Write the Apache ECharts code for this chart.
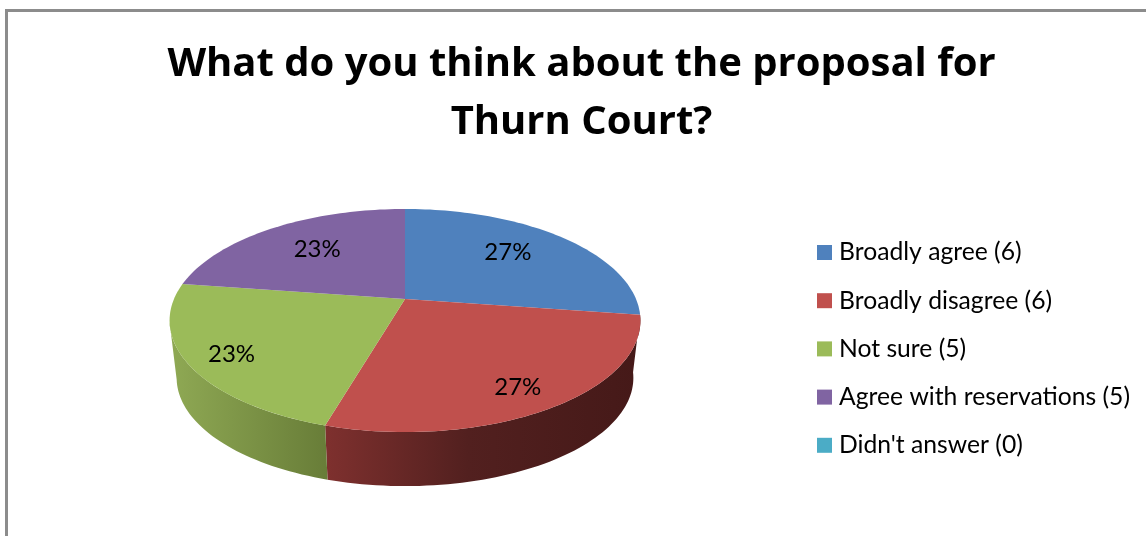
<!DOCTYPE html>
<html>
<head>
<meta charset="utf-8">
<style>html,body{margin:0;padding:0;background:#fff}#c{width:1146px;height:536px}</style>
<script src="https://cdn.jsdelivr.net/npm/echarts@6/dist/echarts.min.js"></script>
</head>
<body>
<div id="c"></div>
<script>
var categories = ["Broadly agree (6)", "Broadly disagree (6)", "Not sure (5)", "Agree with reservations (5)", "Didn't answer (0)"];
var counts = [6, 6, 5, 5, 0];
var colors = ["#4f81bd", "#c0504d", "#9bbb59", "#8064a2", "#4bacc6"];
var titleLines = ["What do you think about the proposal for", "Thurn Court?"];

var total = counts.reduce(function (a, b) { return a + b; }, 0);
var starts = [];
counts.reduce(function (acc, v, i) { starts[i] = acc; return acc + v; }, 0);

// perspective disc projection
var CX = 405, CY = 299, RX = 231, RY = 107.4, K = 0.193;
var BOTTOM_SCALE = 0.97, DEPTH = 58;
var FRONT_FROM = 98, FRONT_TO = 258;
function project(deg, r) {
  var t = deg * Math.PI / 180, u = Math.cos(t) * r, s = Math.sin(t) * r, d = 1 + K * u;
  return [CX + RX * s / d, CY - RY * u / d];
}
function lower(p) {
  return [CX + (p[0] - CX) * BOTTOM_SCALE, CY + (p[1] - CY) * BOTTOM_SCALE + DEPTH];
}
function arc(a, b) {
  var pts = [], n = Math.max(2, Math.ceil(Math.abs(b - a) / 1.5));
  for (var i = 0; i <= n; i++) pts.push(project(a + (b - a) * i / n, 1));
  return pts;
}
var sideFill = {
  1: [327, 640, [[0, "#7e302e"], [0.45, "#52201f"], [1, "#451918"]]],
  2: [170, 327, [[0, "#8fa954"], [1, "#687d38"]]]
};
var labelShift = [[-2, -4], [22, 23], [-38, 15], [2, -2], [0, 0]];

function renderSlice(idx) {
  return function (params, api) {
    var v = api.value(0), s = api.value(1);
    if (!v) return { type: "group", children: [] };
    var a = s / total * 360, b = (s + v) / total * 360, children = [];
    var top = [[CX, CY]].concat(arc(a, b));
    children.push({ type: "polygon", z2: 2, shape: { points: top }, style: { fill: colors[idx] } });
    var fa = Math.max(a, FRONT_FROM), fb = Math.min(b, FRONT_TO);
    if (fb > fa && sideFill[idx]) {
      var upper = arc(fa, fb), low = upper.map(lower).reverse(), g = sideFill[idx];
      children.push({
        type: "polygon", z2: 1, shape: { points: upper.concat(low) },
        style: { fill: new echarts.graphic.LinearGradient(g[0], 0, g[1], 0, g[2].map(function (c) { return { offset: c[0], color: c[1] }; }), true) }
      });
    }
    var m = project((a + b) / 2, 0.65), sh = labelShift[idx];
    children.push({
      type: "text", z2: 3, x: m[0] + sh[0], y: m[1] + sh[1],
      style: { text: Math.round(v / total * 100) + "%", font: "normal 400 24px Lato, sans-serif", fill: "#000", align: "center", verticalAlign: "middle" }
    });
    return { type: "group", children: children };
  };
}

var chart = echarts.init(document.getElementById("c"), null, { renderer: "canvas" });
chart.setOption({
  animation: false,
  color: colors,
  title: {
    text: titleLines.join("\n"), left: 576.5, top: 31, textAlign: "center",
    textStyle: { fontFamily: "Open Sans", fontWeight: "bold", fontSize: 40, lineHeight: 58, color: "#000" }
  },
  legend: {
    orient: "vertical", left: 812, top: 235, icon: "rect", itemWidth: 15, itemHeight: 15, itemGap: 23.2,
    data: categories,
    textStyle: { fontFamily: "Lato", fontSize: 24.7, color: "#000", padding: [0, 0, 0, 2], lineHeight: 25 }
  },
  graphic: [{
    type: "rect", silent: true,
    shape: { x: 6.5, y: 10.5, width: 1300, height: 700 },
    style: { fill: "none", stroke: "#8c8c8c", lineWidth: 3 }
  }],
  series: categories.map(function (name, i) {
    return {
      type: "custom", name: name, coordinateSystem: "none", silent: true,
      renderItem: renderSlice(i),
      data: [[counts[i], starts[i]]]
    };
  })
});
</script>
</body>
</html>
